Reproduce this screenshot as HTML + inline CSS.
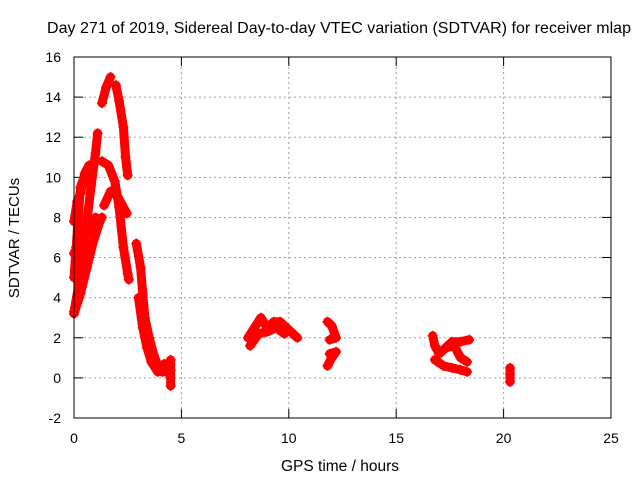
<!DOCTYPE html>
<html><head><meta charset="utf-8"><style>
body{margin:0;background:#fff}
text{font-family:"Liberation Sans",sans-serif;font-size:14px;fill:#000}
</style></head><body>
<svg id="c" width="640" height="480" xmlns="http://www.w3.org/2000/svg">
<rect width="640" height="480" fill="#fff"/>
<text x="339" y="33" text-anchor="middle" style="font-size:16px" textLength="584">Day 271 of 2019, Sidereal Day-to-day VTEC variation (SDTVAR) for receiver mlap</text>
<text x="340" y="471" text-anchor="middle" style="font-size:15.5px">GPS time / hours</text>
<text transform="translate(19,238) rotate(-90)" text-anchor="middle" style="font-size:15px">SDTVAR / TECUs</text>
<g id="grid"></g><g id="marks"></g>
<rect x="74" y="57" width="537" height="361" fill="none" stroke="#000" stroke-width="1"/>
</svg>
<script>
const xTicks=[0,5,10,15,20,25];
const yTicks=[-2,0,2,4,6,8,10,12,14,16];
const trackA=[[0,3.3],[0.2,4.5],[0.4,6],[0.6,7.8],[0.8,9.6],[1.0,11.2],[1.1,12.2]];
const trackB=[[0,3.2],[0.3,4.2],[0.6,5.5],[0.9,6.8],[1.2,7.8],[1.3,8.0]];
const trackC=[[0,5],[0.1,6.5],[0.2,8],[0.3,9.5],[0.4,9.8]];
const trackC2=[[0,6.2],[0.2,6.6],[0.5,7.0],[0.8,7.5],[1.0,8.0]];
const trackC3=[[0,7.8],[0.15,8.8],[0.3,9.2],[0.5,10.2],[0.7,10.6]];
const trackD=[[1.3,10.8],[1.6,10.6],[1.9,9.8],[2.1,8.5],[2.3,6.5],[2.5,5.2],[2.55,4.9]];
const trackE=[[1.4,8.6],[1.7,9.3],[2.0,9.1],[2.2,8.7],[2.46,8.2]];
const trackF1=[[1.3,13.7],[1.5,14.5],[1.7,15.0]];
const trackF2=[[1.95,14.6],[2.1,13.8],[2.3,12.5],[2.4,11],[2.5,10.1]];
const trackG1=[[2.9,6.7],[3.1,5.5],[3.2,4.2],[3.3,3.0],[3.5,2.0],[3.7,1.2],[3.9,0.6],[4.1,0.3],[4.3,0.3]];
const trackG2=[[3.0,4.0],[3.2,2.5],[3.4,1.5],[3.6,0.8],[3.9,0.3],[4.2,0.7]];
const trackH=[[4.5,0.9],[4.5,0.4],[4.5,0],[4.5,-0.4]];
const trackI1=[[8.1,2.0],[8.4,2.5],[8.7,3.0],[9.0,2.5],[9.3,2.8],[9.6,2.8],[10.0,2.4],[10.4,2.0]];
const trackI2=[[8.2,1.6],[8.6,2.2],[9.0,2.3],[9.4,2.5],[9.8,2.2]];
const trackJ1=[[11.8,2.8],[12.0,2.6],[12.2,2.0],[11.9,1.9]];
const trackJ2=[[11.8,0.6],[12.0,1.0],[12.2,1.3],[11.9,1.2]];
const trackK1=[[16.7,2.1],[16.8,1.6],[17.0,1.2],[17.3,1.5],[17.7,1.6],[18.0,1.0],[18.3,0.8]];
const trackK2=[[17.2,1.4],[17.6,1.8],[18.0,1.8],[18.4,1.9]];
const trackK3=[[16.8,0.9],[17.2,0.6],[17.6,0.5],[18.0,0.4],[18.3,0.3]];
const trackL=[[20.3,0.5],[20.3,0.2],[20.3,-0.2]];
const tracks=[trackA,trackB,trackC,trackC2,trackC3,trackD,trackE,trackF1,trackF2,trackG1,trackG2,trackH,trackI1,trackI2,trackJ1,trackJ2,trackK1,trackK2,trackK3,trackL];
const X=t=>74+t*537/25, Y=v=>418-(v+2)*361/18;
const NS="http://www.w3.org/2000/svg";
const g=document.getElementById('grid'), m=document.getElementById('marks');
function mk(tag,a,p){const e=document.createElementNS(NS,tag);for(const k in a)e.setAttribute(k,a[k]);p.appendChild(e);return e;}
xTicks.forEach(t=>{const x=X(t);
 if(t>0&&t<25){const l=mk('line',{x1:x,x2:x,y1:57,y2:418,stroke:'#a0a0a0','stroke-dasharray':'2,3'},g);
 
 }
 mk('line',{x1:x,x2:x,y1:418,y2:409,stroke:'#000'},g);mk('line',{x1:x,x2:x,y1:57,y2:66,stroke:'#000'},g);
 const tx=mk('text',{x:x,y:443,'text-anchor':'middle'},g);tx.textContent=t;
 
 });
yTicks.forEach(v=>{const y=Y(v);
 if(v>-2&&v<16){const l=mk('line',{x1:74,x2:611,y1:y,y2:y,stroke:'#a0a0a0','stroke-dasharray':'2,3'},g);
 
 }
 mk('line',{x1:74,x2:83,y1:y,y2:y,stroke:'#000'},g);mk('line',{x1:611,x2:602,y1:y,y2:y,stroke:'#000'},g);
 const tx=mk('text',{x:61,y:y+5,'text-anchor':'end'},g);tx.textContent=v;
 
 });
tracks.forEach(tr=>{
 const pl=mk('polyline',{points:tr.map(p=>X(p[0])+','+Y(p[1])).join(' '),fill:'none',stroke:'#f00','stroke-width':9,'stroke-linejoin':'round','stroke-linecap':'round'},m);
 
 
 tr.forEach(p=>{const x=X(p[0]),y=Y(p[1]);
  const pt=mk('path',{d:`M${x-5},${y}H${x+5}M${x},${y-5}V${y+5}`,stroke:'#f00','stroke-width':1.5},m);
  
  });
});
</script>
</body></html>
